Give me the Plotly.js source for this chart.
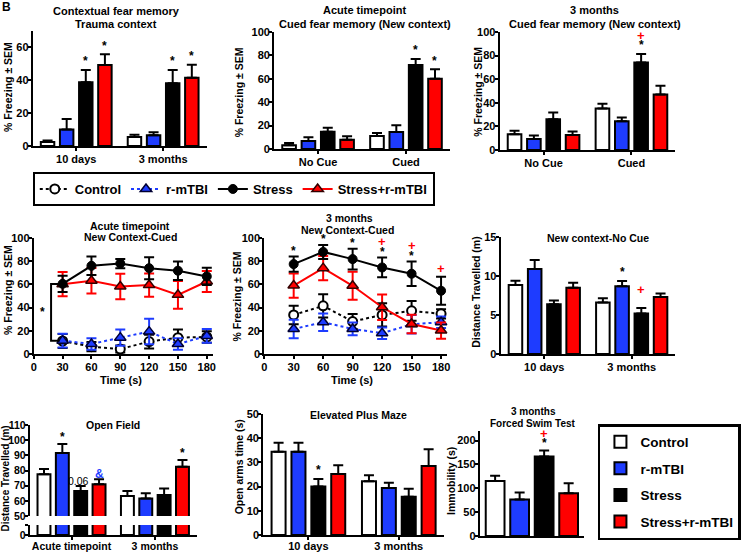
<!DOCTYPE html>
<html>
<head>
<meta charset="utf-8">
<script src="https://cdn.plot.ly/plotly-3.0.1.min.js"></script>
<style>html,body{margin:0;padding:0;background:#fff;}#chart{width:741px;height:554px;}</style>
</head>
<body>
<div id="chart"></div>
<script>
// ---------------- DATA ----------------
const groups = ['Control', 'r-mTBI', 'Stress', 'Stress+r-mTBI'];

// Contextual fear memory (trauma context)
const ctxCats = ['10 days', '3 months'];
const ctxMean = [[2.5, 5.5], [10, 6.5], [38.8, 38.2], [49.3, 41.5]];
const ctxSem  = [[0.9, 1.3], [6.5, 1.8], [7.5, 8], [6.5, 8]];

// Acute cued fear memory (new context)
const cueCats = ['No Cue', 'Cued'];
const cueAcuteMean = [[3.1, 11.1], [6.8, 14.5], [14.8, 71.8], [8, 60.1]];
const cueAcuteSem  = [[2, 2.6], [3.2, 5.7], [3.4, 5.1], [2.8, 8]];

// 3 months cued fear memory (new context)
const cue3mMean = [[13.3, 35.1], [9.3, 24.4], [26, 74.2], [12.7, 47]];
const cue3mSem  = [[3.1, 4], [2.9, 3.1], [5.7, 7.1], [2.9, 7.4]];

// Time course (s)
const timeSec = [30, 60, 90, 120, 150, 180];
const acuteCtrl = [11.2, 6.3, 4.3, 10.7, 14.1, 14.7];
const acuteCtrlSem = [6, 4, 3, 6, 7, 5];
const acuteRm = [11.5, 8.6, 14.1, 19.3, 8.6, 15.6];
const acuteRmSem = [6, 5, 7, 11, 5, 6];
const acuteStress = [60.5, 76, 78, 74, 71.8, 66.9];
const acuteStressSem = [7, 8, 4, 9.5, 8, 7.5];
const acuteSR = [60.2, 63.1, 58.2, 59.4, 51, 62.5];
const acuteSRSem = [10.5, 11, 11, 10, 12, 9];

const m3Ctrl = [33.7, 41.5, 28, 33.7, 37.2, 34.6];
const m3CtrlSem = [8, 10, 6.5, 10, 8.5, 4];
const m3Rm = [21.6, 27.4, 21.6, 17.9, 25.6, 27.4];
const m3RmSem = [8, 7.5, 5.5, 5, 8, 5];
const m3Stress = [77.5, 88, 81.8, 74.6, 69.2, 54.5];
const m3StressSem = [6.5, 6, 9, 8.5, 10.5, 12];
const m3SR = [59, 74, 58.8, 40.3, 25.9, 20.2];
const m3SRSem = [10.5, 10.5, 12, 11, 8, 7];

// New context - No cue (distance travelled, m)
const ncCats = ['10 days', '3 months'];
const ncMean = [[8.85, 6.6], [10.9, 8.7], [6.37, 5.2], [8.5, 7.3]];
const ncSem  = [[0.55, 0.55], [1.15, 0.65], [0.5, 0.7], [0.65, 0.45]];

// Open field (distance travelled, m)
const ofCats = ['Acute timepoint', '3 months'];
const ofMean = [[77.5, 63.2], [91.5, 61.6], [66.5, 63.8], [71, 82.5]];
const ofSem  = [[3.5, 3.3], [6, 3.4], [3.3, 4.4], [3.2, 4.4]];

// Elevated plus maze (open arms time, s)
const epmCats = ['10 days', '3 months'];
const epmMean = [[34.4, 22.2], [34.4, 19.4], [20, 15.8], [25.2, 28.5]];
const epmSem  = [[3.7, 2.5], [3.7, 2.2], [3.1, 3.3], [3.6, 6.9]];

// Forced swim test (immobility, s)
const fstCats = ['3 months'];
const fstMean = [[115], [76.4], [166.7], [89.6]];
const fstSem  = [[11], [14.6], [12.5], [21]];

// significance marks: [category index, group index, text]
const ctxSig = [[0, 2, '*'], [0, 3, '*'], [1, 2, '*'], [1, 3, '*']];
const cueAcuteSig = [[1, 2, '*'], [1, 3, '*']];
const cue3mSig = [[1, 2, '*'], [1, 2, '+']];
const ncSig = [[1, 1, '*'], [1, 2, '+']];
const ofSig = [[0, 1, '*'], [0, 2, '0.06'], [0, 3, '&'], [1, 3, '*']];
const epmSig = [[0, 2, '*']];
const fstSig = [[0, 2, '*'], [0, 2, '+']];
// time-course marks: [time index, text]
const m3Sig = [[0, '*'], [1, '*'], [2, '*'], [3, '*'], [3, '+'], [4, '*'], [4, '+'], [5, '+']];

// ---------------- STYLE / LAYOUT ----------------
const W = 741, H = 554;
const px = v => v / W;
const py = v => 1 - v / H;
const FONT = 'Liberation Sans, Arial, Helvetica, sans-serif';
const fnt = (size, color, weight) => ({family: FONT, size: size, color: color || 'black', weight: weight || 700});
const COLORS = ['#ffffff', '#1e3cff', '#000000', '#ff0000'];
const SLOT = 0.22, BW = 0.155;

const traces = [];
const annotations = [];
const shapes = [];

function barPanel(xa, ya, cats, means, sems, opt) {
  opt = opt || {};
  const slot = opt.slot || SLOT, bw = opt.bw || BW;
  groups.forEach((g, i) => {
    traces.push({
      type: 'bar', name: g, x: cats, y: means[i], xaxis: xa, yaxis: ya,
      width: cats.map(() => bw),
      offset: cats.map(() => (i - 1.5) * slot - bw / 2),
      marker: {color: COLORS[i], line: {color: 'black', width: 2}},
      error_y: opt.noErr ? {visible: false} : {type: 'data', array: sems[i], arrayminus: sems[i].map(() => 0), symmetric: false, color: 'black', thickness: 2, width: 5},
      showlegend: !!opt.legend, legend: 'legend2', legendgroup: 'g' + i,
      hoverinfo: 'skip'
    });
  });
}

function sigMarks(xa, ya, means, sems, sig, range, opt) {
  opt = opt || {};
  const slot = opt.slot || SLOT;
  const starPad = range * 0.075, plusPad = range * 0.085;
  sig.forEach(s => {
    const c = s[0], g = s[1], t = s[2];
    const top = means[g][c] + sems[g][c];
    let y = top + starPad, color = 'black', size = 12, weight = 700, x = c + (g - 1.5) * slot;
    if (t === '+') { y = top + starPad + plusPad; color = '#ff0000'; size = 13; }
    if (t === '&') { color = '#1e3cff'; size = 12; y = top + range * 0.06; }
    if (t === '0.06') { size = 10.5; weight = 400; y = top + range * 0.06; x -= 0.03; }
    annotations.push({xref: xa, yref: ya, x: x, y: y, text: t, showarrow: false,
      font: fnt(size, color, weight), xanchor: 'center', yanchor: 'middle'});
  });
}

function lineSeries(xa, ya, ys, sems, kind, legend) {
  const st = {
    ctrl: {name: 'Control', line: {color: 'black', width: 2, dash: 'dot'}, marker: {symbol: 'circle', size: 9, color: 'white', line: {color: 'black', width: 2}}, ec: 'black', rank: 1},
    rm: {name: 'r-mTBI', line: {color: '#1e3cff', width: 2, dash: 'dot'}, marker: {symbol: 'triangle-up', size: 10, color: '#1e3cff', line: {color: '#000033', width: 1.5}}, ec: '#1e3cff', rank: 2},
    stress: {name: 'Stress', line: {color: 'black', width: 2}, marker: {symbol: 'circle', size: 9, color: 'black', line: {color: 'black', width: 1}}, ec: 'black', rank: 3},
    sr: {name: 'Stress+r-mTBI', line: {color: '#ff0000', width: 2}, marker: {symbol: 'triangle-up', size: 10, color: '#ff0000', line: {color: '#330000', width: 1.5}}, ec: '#ff0000', rank: 4}
  }[kind];
  traces.push({
    type: 'scatter', mode: 'lines+markers', name: st.name, x: timeSec, y: ys, xaxis: xa, yaxis: ya,
    line: st.line, marker: st.marker,
    error_y: {type: 'data', array: sems, color: st.ec, thickness: 2, width: 5},
    showlegend: !!legend, legend: 'legend', legendrank: st.rank, hoverinfo: 'skip', cliponaxis: false
  });
}

// Panel A
barPanel('x', 'y', ctxCats, ctxMean, ctxSem, {legend: true});
sigMarks('x', 'y', ctxMean, ctxSem, ctxSig, 70);
// Panel B
barPanel('x2', 'y2', cueCats, cueAcuteMean, cueAcuteSem);
sigMarks('x2', 'y2', cueAcuteMean, cueAcuteSem, cueAcuteSig, 100);
// Panel C
barPanel('x3', 'y3', cueCats, cue3mMean, cue3mSem);
sigMarks('x3', 'y3', cue3mMean, cue3mSem, cue3mSig, 100);
// Panel D
lineSeries('x4', 'y4', acuteCtrl, acuteCtrlSem, 'ctrl', true);
lineSeries('x4', 'y4', acuteRm, acuteRmSem, 'rm', true);
lineSeries('x4', 'y4', acuteSR, acuteSRSem, 'sr', true);
lineSeries('x4', 'y4', acuteStress, acuteStressSem, 'stress', true);
// Panel E
lineSeries('x5', 'y5', m3Ctrl, m3CtrlSem, 'ctrl');
lineSeries('x5', 'y5', m3Rm, m3RmSem, 'rm');
lineSeries('x5', 'y5', m3SR, m3SRSem, 'sr');
lineSeries('x5', 'y5', m3Stress, m3StressSem, 'stress');
m3Sig.forEach(s => {
  const i = s[0], t = s[1];
  const top = m3Stress[i] + m3StressSem[i];
  const isPlus = t === '+';
  const hasStar = m3Sig.some(o => o[0] === i && o[1] === '*');
  const y = isPlus ? top + (hasStar ? 14 : 7) : top + 5;
  annotations.push({xref: 'x5', yref: 'y5', x: timeSec[i], y: y, text: t, showarrow: false,
    font: fnt(isPlus ? 13 : 12, isPlus ? '#ff0000' : 'black'), yanchor: 'middle'});
});
// Bracket in panel D (Stress groups vs non-stress groups at first time point)
const brTop = (acuteStress[0] + acuteSR[0]) / 2, brBot = (acuteCtrl[0] + acuteRm[0]) / 2;
shapes.push({type: 'path', xref: 'x4', yref: 'y4', path: `M ${timeSec[0] - 3},${brTop} L 18,${brTop} L 18,${brBot} L ${timeSec[0] - 3},${brBot}`, line: {color: 'black', width: 2}});
annotations.push({xref: 'x4', yref: 'y4', x: 9, y: (brTop + brBot) / 2, text: '*', showarrow: false, font: fnt(12), yanchor: 'middle'});
// Panel F
barPanel('x6', 'y6', ncCats, ncMean, ncSem);
sigMarks('x6', 'y6', ncMean, ncSem, ncSig, 15);
// Panel G (broken axis)
barPanel('x7', 'y7', ofCats, ofMean, ofSem);
barPanel('x7', 'y8', ofCats, ofMean, ofSem, {noErr: true});
sigMarks('x7', 'y7', ofMean, ofSem, ofSig, 60);
// Panel H
barPanel('x8', 'y9', epmCats, epmMean, epmSem);
sigMarks('x8', 'y9', epmMean, epmSem, epmSig, 50);
// Panel I
barPanel('x9', 'y10', fstCats, fstMean, fstSem, {slot: 0.235, bw: 0.18});
sigMarks('x9', 'y10', fstMean, fstSem, fstSig, 220, {slot: 0.235});

// axes
function ax(extra) {
  return Object.assign({showline: true, linecolor: 'black', linewidth: 2, ticks: 'outside', ticklen: 3, tickwidth: 2,
    tickcolor: 'black', showgrid: false, zeroline: false, tickfont: fnt(11), fixedrange: true, ticklabelstandoff: -1}, extra);
}
const yx = (extra) => ax(Object.assign({ticklabelstandoff: -3}, extra));
const catX = (dom, anchor, extra) => ax(Object.assign({type: 'category', range: [-0.5, 1.5], domain: [px(dom[0]), px(dom[1])], anchor: anchor}, extra || {}));
const bottomX = {ticklabelstandoff: -3};

const layout = {
  width: W, height: H, margin: {l: 0, r: 0, t: 0, b: 0}, paper_bgcolor: 'white', plot_bgcolor: 'rgba(0,0,0,0)',
  barmode: 'overlay', showlegend: true, font: fnt(11),
  xaxis: catX([33, 208], 'y'),
  yaxis: yx({range: [0, 70], dtick: 20, domain: [py(146), py(31)], anchor: 'x'}),
  xaxis2: catX([276, 453], 'y2'),
  yaxis2: yx({range: [0, 100], dtick: 20, domain: [py(149), py(32)], anchor: 'x2'}),
  xaxis3: catX([503, 680], 'y3'),
  yaxis3: yx({range: [0, 100], dtick: 20, domain: [py(150), py(32)], anchor: 'x3'}),
  xaxis4: ax({range: [0, 186], tickvals: [0, 30, 60, 90, 120, 150, 180], domain: [px(34), px(214)], anchor: 'y4'}),
  yaxis4: yx({range: [0, 100], dtick: 20, domain: [py(354), py(238)], anchor: 'x4'}),
  xaxis5: ax({range: [0, 186], tickvals: [0, 30, 60, 90, 120, 150, 180], domain: [px(266), px(450)], anchor: 'y5'}),
  yaxis5: yx({range: [0, 100], dtick: 20, domain: [py(354), py(238)], anchor: 'x5'}),
  xaxis6: catX([504, 680], 'y6'),
  yaxis6: yx({range: [0, 15], dtick: 5, domain: [py(354), py(237)], anchor: 'x6'}),
  xaxis7: catX([30, 198], 'y8', Object.assign({tickfont: fnt(10.5)}, bottomX)),
  yaxis7: yx({range: [50, 110], dtick: 10, domain: [py(516), py(425)], anchor: 'x7', tickfont: fnt(10.5)}),
  yaxis8: yx({range: [0, 6.6], tickvals: [0, 6.6], ticktext: ['0', ''], domain: [py(535), py(525)], anchor: 'x7', tickfont: fnt(10.5)}),
  xaxis8: catX([265, 447], 'y9', bottomX),
  yaxis9: yx({range: [0, 50], dtick: 10, domain: [py(535), py(414)], anchor: 'x8'}),
  xaxis9: ax({type: 'category', range: [-0.5, 0.5], showticklabels: false, ticks: '', domain: [px(483), px(588)], anchor: 'y10'}),
  yaxis10: yx({range: [0, 220], dtick: 50, domain: [py(536), py(431)], anchor: 'x9'}),
  legend: {x: px(33), y: py(172), xanchor: 'left', yanchor: 'top', orientation: 'h', bordercolor: 'black', borderwidth: 2,
    bgcolor: 'white', font: fnt(13), traceorder: 'normal'},
  legend2: {x: px(602), y: py(424), xanchor: 'left', yanchor: 'top', orientation: 'v', bordercolor: 'black', borderwidth: 2.5,
    bgcolor: 'white', font: fnt(13.5), tracegroupgap: 6, traceorder: 'grouped'},
  shapes: shapes,
  annotations: annotations
};

// panel titles, axis titles (paper coords in px)
const txt = (x, y, t, size, angle) => annotations.push({xref: 'paper', yref: 'paper', x: px(x), y: py(y), text: t, showarrow: false,
  font: fnt(size || 11), xanchor: 'center', yanchor: 'middle', textangle: angle || 0});
txt(117, 11, 'Contextual fear memory'); txt(117, 24, 'Trauma context');
txt(367, 10, 'Acute timepoint'); txt(367, 24, 'Cued fear memory (New context)');
txt(599, 10, '3 months'); txt(599, 24, 'Cued fear memory (New context)');
txt(131, 226, 'Acute timepoint', 10.5); txt(131, 237, 'New Context-Cued', 10.5);
txt(352, 218, '3 months', 10.5); txt(350, 230, 'New Context-Cued', 10.5);
txt(602, 238, 'New context-No Cue', 10.5);
txt(114, 425, 'Open Field', 10.5);
txt(361, 415, 'Elevated Plus Maze', 10.5);
txt(537, 411, '3 months', 10); txt(537, 423, 'Forced Swim Test', 10);
// y axis titles
txt(8, 87, '% Freezing ± SEM', 10.5, -90);
txt(241, 92, '% Freezing ± SEM', 10.5, -90);
txt(481, 92, '% Freezing ± SEM', 10.5, -90);
txt(8, 290, '% Freezing ± SEM', 10.5, -90);
txt(239, 296, '% Freezing ± SEM', 10.5, -90);
txt(479, 292, 'Distance Travelled (m)', 10.5, -90);
txt(5.5, 478, 'Distance Travelled (m)', 10, -90);
txt(241, 467, 'Open arms time (s)', 10.5, -90);
txt(454, 481, 'Immobility (s)', 10.5, -90);
// x axis titles
txt(122, 380, 'Time (s)', 11); txt(354, 380, 'Time (s)', 11);
// panel letter
annotations.push({xref: 'paper', yref: 'paper', x: 0, y: py(7), text: 'B', showarrow: false, font: fnt(12), xanchor: 'left', yanchor: 'middle'});

Plotly.newPlot('chart', traces, layout, {staticPlot: true, displayModeBar: false});
</script>
</body>
</html>
